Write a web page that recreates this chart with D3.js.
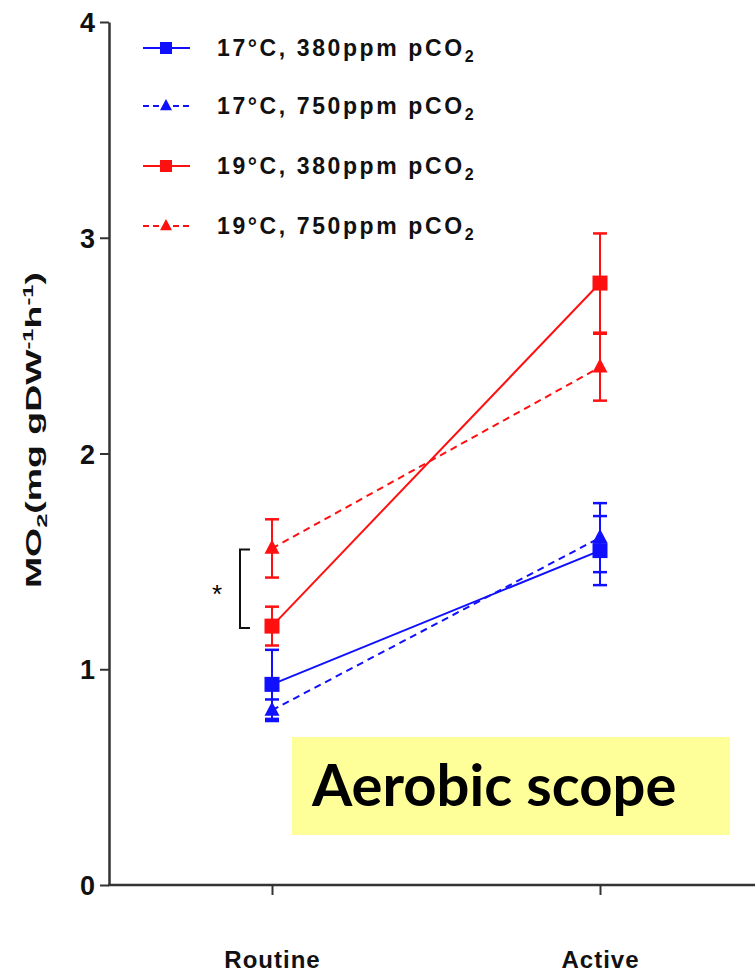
<!DOCTYPE html>
<html>
<head>
<meta charset="utf-8">
<script src="https://cdn.jsdelivr.net/npm/d3@7"></script>
<style>
  body { margin: 0; background: #fff; }
  svg { display: block; }
  .tick text { font-family: "Liberation Sans", Arial, sans-serif; font-weight: bold; fill: #111; }
</style>
</head>
<body>
<svg id="chart" width="755" height="973"></svg>
<script>
// data
let conditions = ["Routine", "Active"];
let seriesNames = ["17°C, 380ppm pCO", "17°C, 750ppm pCO", "19°C, 380ppm pCO", "19°C, 750ppm pCO"];
let seriesColors = ["#1010ff", "#1010ff", "#ff1010", "#ff1010"];
let seriesDashed = [false, true, false, true];
let seriesMarker = ["square", "triangle", "square", "triangle"];
let mean_17_380 = [0.93, 1.55];
let err_17_380 = [0.16, 0.16];
let mean_17_750 = [0.81, 1.61];
let err_17_750 = [0.05, 0.16];
let mean_19_380 = [1.20, 2.79];
let err_19_380 = [0.09, 0.23];
let mean_19_750 = [1.56, 2.40];
let err_19_750 = [0.135, 0.155];
let yTicks = [0, 1, 2, 3, 4];
let bracketValues = [1.56, 1.20];

let means = [mean_17_380, mean_17_750, mean_19_380, mean_19_750];
let errs = [err_17_380, err_17_750, err_19_380, err_19_750];

let svg = d3.select("#chart");
let axisColor = "#333";

let y = d3.scaleLinear().domain([0, 4]).range([885, 22]);
let x = d3.scalePoint().domain(conditions).range([272, 600]);

// y axis
let gy = svg.append("g").attr("transform", "translate(109,0)")
    .call(d3.axisLeft(y).tickValues(yTicks).tickFormat(d3.format("d")).tickSize(9).tickPadding(5).tickSizeOuter(0));
gy.select(".domain").attr("stroke", axisColor).attr("stroke-width", 2.5);
gy.selectAll(".tick line").attr("stroke", axisColor).attr("stroke-width", 2);
gy.selectAll(".tick text").style("font-size", "27px").attr("dy", "0.36em");

// x axis
let gx = svg.append("g").attr("transform", "translate(0,885)")
    .call(d3.axisBottom(x).tickSize(10).tickPadding(56).tickSizeOuter(0));
gx.select(".domain").remove();
gx.selectAll(".tick line").attr("stroke", axisColor).attr("stroke-width", 2);
gx.selectAll(".tick text").style("font-size", "24px").style("letter-spacing", "1px");
svg.append("line").attr("x1", 108).attr("x2", 755).attr("y1", 885).attr("y2", 885)
    .attr("stroke", axisColor).attr("stroke-width", 2.5);

// y label, stretched along its length like the original
let ylab = svg.append("text")
    .attr("transform", "translate(41,430) rotate(-90) scale(1.7,1)")
    .attr("text-anchor", "middle")
    .style("font-family", "'Liberation Sans', Arial, sans-serif")
    .style("font-weight", "bold").style("font-size", "22px").attr("fill", "#111");
ylab.append("tspan").text("MO");
ylab.append("tspan").text("2").style("font-size", "15px").attr("dy", 6);
ylab.append("tspan").text("(mg gDW").attr("dy", -6);
ylab.append("tspan").text("-1").style("font-size", "14px").attr("dy", -8);
ylab.append("tspan").text("h").attr("dy", 8);
ylab.append("tspan").text("-1").style("font-size", "14px").attr("dy", -8);
ylab.append("tspan").text(")").attr("dy", 8);

function drawMarker(g, type, cx, cy, size, color) {
    if (type === "square") {
        g.append("rect").attr("x", cx - size / 2).attr("y", cy - size / 2)
            .attr("width", size).attr("height", size).attr("fill", color);
    } else {
        let h = size * 0.95;
        g.append("path")
            .attr("d", `M${cx},${cy - h * 0.62}L${cx + size / 2},${cy + h * 0.38}L${cx - size / 2},${cy + h * 0.38}Z`)
            .attr("fill", color);
    }
}

// series
let plot = svg.append("g");
for (let s = 0; s < 4; ++s) {
    let g = plot.append("g");
    let color = seriesColors[s];
    let line = d3.line().x((d, i) => x(conditions[i])).y(d => y(d));
    g.append("path").attr("d", line(means[s]))
        .attr("fill", "none").attr("stroke", color).attr("stroke-width", 2)
        .attr("stroke-dasharray", seriesDashed[s] ? "7,5" : null);
    for (let i = 0; i < conditions.length; ++i) {
        let cx = x(conditions[i]);
        let top = y(means[s][i] + errs[s][i]);
        let bot = y(means[s][i] - errs[s][i]);
        g.append("line").attr("x1", cx).attr("x2", cx).attr("y1", top).attr("y2", bot)
            .attr("stroke", color).attr("stroke-width", 2);
        [top, bot].forEach(v => {
            g.append("line").attr("x1", cx - 7).attr("x2", cx + 7).attr("y1", v).attr("y2", v)
                .attr("stroke", color).attr("stroke-width", 2.5);
        });
        drawMarker(g, seriesMarker[s], cx, y(means[s][i]), 15, color);
    }
}

// significance bracket
let b1 = y(bracketValues[0]) + 1, b2 = y(bracketValues[1]) + 2;
svg.append("path").attr("d", `M250,${b1}H240V${b2}H250`)
    .attr("fill", "none").attr("stroke", "#111").attr("stroke-width", 2);
svg.append("text").attr("x", 217).attr("y", (b1 + b2) / 2 + 14).attr("text-anchor", "middle")
    .style("font-family", "'Liberation Sans', Arial, sans-serif").style("font-size", "26px").text("*");

// legend
let legendY = [48, 106, 166, 226];
for (let s = 0; s < 4; ++s) {
    let g = svg.append("g");
    let ly = legendY[s];
    g.append("line").attr("x1", 143).attr("x2", 190).attr("y1", ly).attr("y2", ly)
        .attr("stroke", seriesColors[s]).attr("stroke-width", 2)
        .attr("stroke-dasharray", seriesDashed[s] ? "6,4" : null);
    drawMarker(g, seriesMarker[s], 166, ly, 12, seriesColors[s]);
    let t = g.append("text").attr("x", 217).attr("y", ly + 8)
        .style("font-family", "'Liberation Sans', Arial, sans-serif")
        .style("font-weight", "bold").style("font-size", "23px").style("letter-spacing", "2.6px")
        .attr("fill", "#111");
    t.append("tspan").text(seriesNames[s]);
    t.append("tspan").text("2").style("font-size", "16px").attr("dy", 6);
}

// annotation box
svg.append("rect").attr("x", 292).attr("y", 737).attr("width", 438).attr("height", 98).attr("fill", "#ffff99");
svg.append("text").attr("x", 312).attr("y", 806)
    .style("font-family", "Lato, 'Open Sans', sans-serif").style("font-weight", "bold").style("font-size", "58px")
    .attr("fill", "#000").text("Aerobic scope");
</script>
</body>
</html>
